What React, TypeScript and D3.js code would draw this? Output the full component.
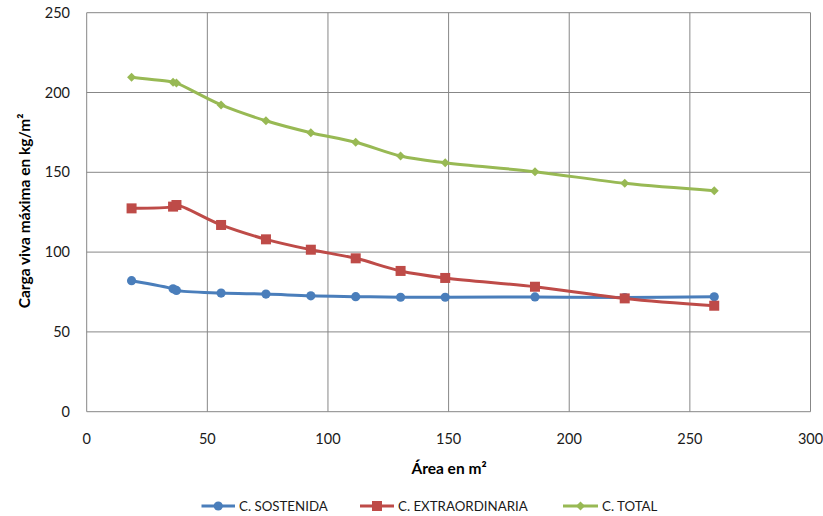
import React from "react";
import * as d3 from "d3";

const areas = [18.6, 35.8, 37.2, 55.7, 74.3, 92.9, 111.5, 130.1, 148.6, 185.8, 223.0, 260.1];
const sostenida = [82.1, 77.0, 76.0, 74.3, 73.7, 72.6, 72.1, 71.7, 71.7, 71.9, 71.5, 72.0];
const extraordinaria = [127.4, 128.5, 129.5, 117.0, 108.0, 101.5, 96.1, 88.2, 83.8, 78.3, 71.0, 66.4];
const total = [209.5, 206.5, 206.0, 192.2, 182.3, 174.8, 168.8, 160.2, 156.0, 150.4, 143.1, 138.5];
const xTicks = [0, 50, 100, 150, 200, 250, 300];
const yTicks = [0, 50, 100, 150, 200, 250];
const seriesNames = ["C. SOSTENIDA", "C. EXTRAORDINARIA", "C. TOTAL"];

const colors = ["#4A7EBB", "#BE4B48", "#98B954"];
const FONT = "Lato, 'Open Sans', sans-serif";

export default function App() {
  const W = 823, H = 516;
  const x = d3.scaleLinear().domain([0, 300]).range([86.7, 810.5]);
  const y = d3.scaleLinear().domain([0, 250]).range([411.7, 12.7]);
  const line = d3
    .line<[number, number]>()
    .x((d) => x(d[0]))
    .y((d) => y(d[1]))
    .curve(d3.curveCatmullRom.alpha(0.5));
  const all = [sostenida, extraordinaria, total];

  const marker = (i: number, cx: number, cy: number, key: string) => {
    if (i === 0) return <circle key={key} cx={cx} cy={cy} r={4.6} fill={colors[0]} />;
    if (i === 1) return <rect key={key} x={cx - 5} y={cy - 5} width={10} height={10} fill={colors[1]} />;
    return (
      <path key={key} d={`M${cx},${cy - 4.5}L${cx + 4.5},${cy}L${cx},${cy + 4.5}L${cx - 4.5},${cy}Z`} fill={colors[2]} />
    );
  };

  const legend = [
    { lx1: 201.5, lx2: 235, tx: 239 },
    { lx1: 360, lx2: 394, tx: 398 },
    { lx1: 563, lx2: 598, tx: 602 },
  ];

  return (
    <svg width={W} height={H} style={{ position: "absolute", left: 0, top: 0, background: "#fff" }}>
      <rect x={0} y={0} width={W} height={H} fill="#fff" />
      {xTicks.map((t) => (
        <line key={"gx" + t} x1={x(t)} x2={x(t)} y1={y(0)} y2={y(250)} stroke="#878787" strokeWidth={1} />
      ))}
      {yTicks.map((t) => (
        <line key={"gy" + t} x1={x(0)} x2={x(300)} y1={y(t)} y2={y(t)} stroke="#878787" strokeWidth={1} />
      ))}
      {yTicks.map((t) => (
        <text key={"ty" + t} x={70} y={y(t)} dy="0.35em" textAnchor="end" fontFamily={FONT} fontSize={14.5} fill="#1a1a1a">
          {t}
        </text>
      ))}
      {xTicks.map((t) => (
        <text key={"tx" + t} x={x(t)} y={439} dy="0.35em" textAnchor="middle" fontFamily={FONT} fontSize={14.5} fill="#1a1a1a">
          {t}
        </text>
      ))}
      <text
        transform="translate(25,211) rotate(-90)"
        textAnchor="middle"
        dy="0.35em"
        fontFamily={FONT}
        fontSize={15.5}
        fontWeight="bold"
        fill="#000"
      >
        Carga viva máxima en kg/m²
      </text>
      <text x={449} y={469} dy="0.35em" textAnchor="middle" fontFamily={FONT} fontSize={15.5} fontWeight="bold" fill="#000">
        Área en m²
      </text>
      {all.map((vals, i) => {
        const pts: [number, number][] = areas.map((a, j) => [a, vals[j]]);
        return (
          <g key={"s" + i}>
            <path d={line(pts) || ""} fill="none" stroke={colors[i]} strokeWidth={3} strokeLinejoin="round" />
            {pts.map((p, j) => marker(i, x(p[0]), y(p[1]), `m${i}-${j}`))}
          </g>
        );
      })}
      {legend.map((l, i) => (
        <g key={"lg" + i}>
          <line x1={l.lx1} x2={l.lx2} y1={506} y2={506} stroke={colors[i]} strokeWidth={3} />
          {marker(i, (l.lx1 + l.lx2) / 2, 506, "lm" + i)}
          <text x={l.tx} y={506} dy="0.35em" fontFamily={FONT} fontSize={13.3} fill="#1a1a1a">
            {seriesNames[i]}
          </text>
        </g>
      ))}
    </svg>
  );
}
